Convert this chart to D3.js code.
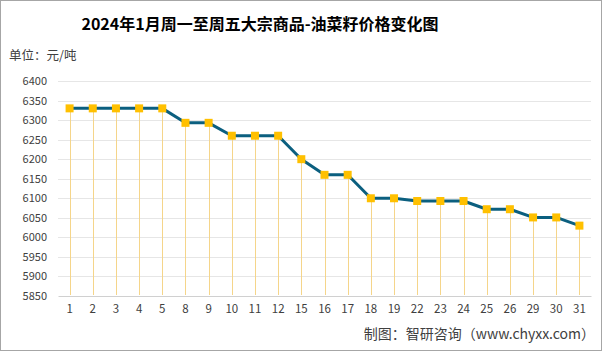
<!DOCTYPE html>
<html><head><meta charset="utf-8">
<script src="https://cdn.jsdelivr.net/npm/d3@7"></script>
<style>
html,body{margin:0;padding:0;background:#fff;}
svg{display:block;font-family:"Noto Sans CJK SC","Microsoft YaHei",sans-serif;}
</style></head>
<body><svg id="c" width="602" height="351"></svg>
<script>
const days = ["1","2","3","4","5","8","9","10","11","12","15","16","17","18","19","22","23","24","25","26","29","30","31"];
const prices = [6330,6330,6330,6330,6330,6293,6293,6260,6260,6260,6200,6160,6160,6100,6100,6093,6093,6093,6072,6072,6051,6051,6030];
const yTicks = [5850,5900,5950,6000,6050,6100,6150,6200,6250,6300,6350,6400];
const title = "2024年1月周一至周五大宗商品-油菜籽价格变化图";
const unit = "单位：元/吨";
const source = "制图：智研咨询（www.chyxx.com）";

const svg = d3.select("#c");
svg.append("rect").attr("x",0.5).attr("y",0.5).attr("width",601).attr("height",350)
  .attr("fill","#fff").attr("stroke","#a6a6a6");

const x = d3.scaleBand().domain(days).range([58,591]);
const y = d3.scaleLinear().domain([5850,6400]).range([296,81]);

svg.append("text").attr("x",260).attr("y",30).attr("text-anchor","middle")
  .attr("font-size",16).attr("font-weight","bold").attr("fill","#000").text(title);
svg.append("text").attr("x",9).attr("y",60).attr("font-size",12.5).attr("fill","#404040").text(unit);

// grid
svg.append("g").selectAll("line").data(yTicks.slice(1)).join("line")
  .attr("x1",58).attr("x2",591).attr("y1",d=>Math.round(y(d))+0.5).attr("y2",d=>Math.round(y(d))+0.5)
  .attr("stroke","#e6e6e6");

// y axis labels
const ya = svg.append("g").attr("transform","translate(58,0)")
  .call(d3.axisLeft(y).tickValues(yTicks).tickFormat(d3.format("d")).tickSize(0).tickPadding(11));
ya.select(".domain").remove();
ya.selectAll("text").attr("font-size",11).attr("fill","#404040").attr("font-family","Noto Sans CJK SC, sans-serif");

// x axis
const xa = svg.append("g").attr("transform","translate(0,296)")
  .call(d3.axisBottom(x).tickSize(0).tickPadding(9));
xa.select(".domain").attr("stroke","#d0d0d0");
xa.selectAll("text").attr("font-size",11.5).attr("fill","#404040").attr("font-family","Noto Sans CJK SC, sans-serif");

const cx = d => x(d) + x.bandwidth()/2;

// drop lines
svg.append("g").selectAll("line").data(days).join("line")
  .attr("x1",(d)=>Math.round(cx(d))+0.5).attr("x2",(d)=>Math.round(cx(d))+0.5)
  .attr("y1",(d,i)=>y(prices[i])).attr("y2",295)
  .attr("stroke","#f5d58a").attr("stroke-width",1);

// line
svg.append("path").datum(days)
  .attr("d", d3.line().x(d=>cx(d)).y((d,i)=>y(prices[i])))
  .attr("fill","none").attr("stroke","#0b5f7f").attr("stroke-width",3).attr("stroke-linejoin","round");

// markers
svg.append("g").selectAll("rect").data(days).join("rect")
  .attr("x",d=>cx(d)-4).attr("y",(d,i)=>y(prices[i])-4).attr("width",8).attr("height",8)
  .attr("fill","#ffc000");

svg.append("text").attr("x",595).attr("y",339).attr("text-anchor","end")
  .attr("font-size",14).attr("fill","#404040").text(source);
</script></body></html>
